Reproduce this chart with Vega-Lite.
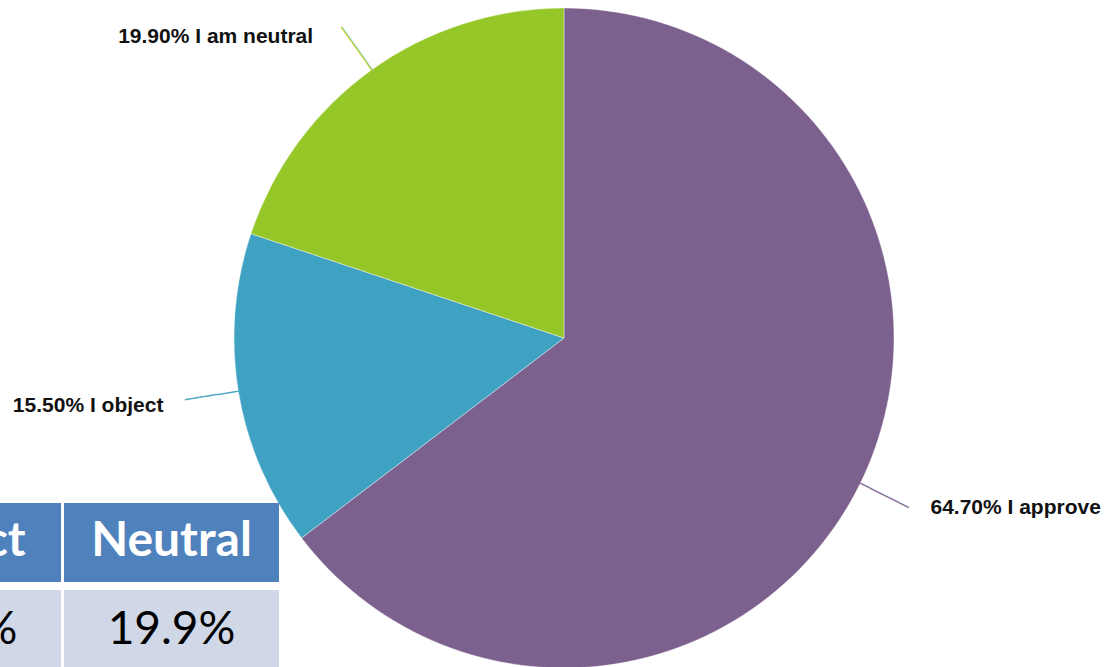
{
  "$schema": "https://vega.github.io/schema/vega-lite/v6.json",
  "width": 1088,
  "height": 658,
  "autosize": {"type": "none"},
  "padding": {"left": 20, "top": 9, "right": 0, "bottom": 0},
  "background": "#ffffff",
  "config": {"view": {"stroke": null}},
  "datasets": {
    "responses": [
      {"response": "I approve", "percent": 64.7, "rank": 1, "label": "64.70% I approve"},
      {"response": "I object", "percent": 15.5, "rank": 2, "label": "15.50% I object"},
      {"response": "I am neutral", "percent": 19.9, "rank": 3, "label": "19.90% I am neutral"}
    ],
    "table": [
      {"column": "Object", "header": "Object", "value": "15.5%"},
      {"column": "Neutral", "header": "Neutral", "value": "19.9%"}
    ]
  },
  "layer": [
    {
      "data": {"name": "responses"},
      "mark": {"type": "arc", "outerRadius": 330, "stroke": "#ffffff", "strokeWidth": 0.4},
      "encoding": {
        "theta": {"field": "percent", "type": "quantitative", "stack": true},
        "order": {"field": "rank", "type": "quantitative"},
        "color": {
          "field": "response", "type": "nominal",
          "scale": {"domain": ["I approve", "I object", "I am neutral"], "range": ["#7c608e", "#40a2c2", "#96c728"]},
          "legend": null
        }
      }
    },
    {
      "data": {"name": "responses"},
      "mark": {"type": "text", "radius": 357, "angle": 26.5, "font": "DejaVu Sans Mono", "fontSize": 18, "color": "#8a74a0", "align": "center", "baseline": "middle"},
      "encoding": {
        "theta": {"field": "percent", "type": "quantitative", "stack": true},
        "order": {"field": "rank", "type": "quantitative"},
        "detail": {"field": "response", "type": "nominal"},
        "text": {"condition": {"test": "datum.response === 'I approve'", "value": "─────"}, "value": ""}
      }
    },
    {
      "data": {"name": "responses"},
      "mark": {"type": "text", "radius": 357, "angle": -9.2, "font": "DejaVu Sans Mono", "fontSize": 18, "color": "#4fa8c7", "align": "center", "baseline": "middle"},
      "encoding": {
        "theta": {"field": "percent", "type": "quantitative", "stack": true},
        "order": {"field": "rank", "type": "quantitative"},
        "detail": {"field": "response", "type": "nominal"},
        "text": {"condition": {"test": "datum.response === 'I object'", "value": "─────"}, "value": ""}
      }
    },
    {
      "data": {"name": "responses"},
      "mark": {"type": "text", "radius": 355, "angle": 54.5, "font": "DejaVu Sans Mono", "fontSize": 18, "color": "#a2cc48", "align": "center", "baseline": "middle"},
      "encoding": {
        "theta": {"field": "percent", "type": "quantitative", "stack": true},
        "order": {"field": "rank", "type": "quantitative"},
        "detail": {"field": "response", "type": "nominal"},
        "text": {"condition": {"test": "datum.response === 'I am neutral'", "value": "─────"}, "value": ""}
      }
    },
    {
      "data": {"name": "responses"},
      "mark": {"type": "text", "radius": 400, "align": "left", "baseline": "middle", "dx": 8, "dy": -8, "font": "Liberation Sans", "fontWeight": "bold", "fontSize": 21, "color": "#111111"},
      "encoding": {
        "theta": {"field": "percent", "type": "quantitative", "stack": true},
        "order": {"field": "rank", "type": "quantitative"},
        "detail": {"field": "response", "type": "nominal"},
        "text": {"condition": {"test": "datum.response === 'I approve'", "field": "label"}, "value": ""}
      }
    },
    {
      "data": {"name": "responses"},
      "mark": {"type": "text", "radius": 400, "align": "right", "baseline": "middle", "dx": -6, "dy": 2, "font": "Liberation Sans", "fontWeight": "bold", "fontSize": 21, "color": "#111111"},
      "encoding": {
        "theta": {"field": "percent", "type": "quantitative", "stack": true},
        "order": {"field": "rank", "type": "quantitative"},
        "detail": {"field": "response", "type": "nominal"},
        "text": {"condition": {"test": "datum.response === 'I object'", "field": "label"}, "value": ""}
      }
    },
    {
      "data": {"name": "responses"},
      "mark": {"type": "text", "radius": 400, "align": "right", "baseline": "middle", "dx": -17, "dy": 23, "font": "Liberation Sans", "fontWeight": "bold", "fontSize": 21, "color": "#111111"},
      "encoding": {
        "theta": {"field": "percent", "type": "quantitative", "stack": true},
        "order": {"field": "rank", "type": "quantitative"},
        "detail": {"field": "response", "type": "nominal"},
        "text": {"condition": {"test": "datum.response === 'I am neutral'", "field": "label"}, "value": ""}
      }
    },
    {
      "data": {"name": "table"},
      "transform": [{"fold": ["header", "value"], "as": ["row", "text"]}],
      "mark": {"type": "rect"},
      "encoding": {
        "x": {"field": "column", "type": "nominal", "sort": ["Object", "Neutral"], "scale": {"type": "band", "range": [-174, 259], "paddingInner": 0.0138, "paddingOuter": 0}, "axis": null},
        "y": {"field": "row", "type": "nominal", "sort": ["header", "value"], "scale": {"type": "band", "range": [494, 660], "paddingInner": 0.093, "paddingOuter": 0}, "axis": null},
        "color": {"field": "row", "type": "nominal", "scale": {"domain": ["header", "value"], "range": ["#4f81bd", "#d0d8e8"]}, "legend": null}
      }
    },
    {
      "data": {"name": "table"},
      "transform": [{"fold": ["header", "value"], "as": ["row", "text"]}, {"filter": "datum.row === 'header'"}],
      "mark": {"type": "text", "font": "Lato", "fontWeight": "bold", "fontSize": 48, "color": "#ffffff", "align": "center", "baseline": "middle"},
      "encoding": {
        "x": {"field": "column", "type": "nominal", "sort": ["Object", "Neutral"], "scale": {"type": "band", "range": [-174, 259], "paddingInner": 0.0138, "paddingOuter": 0}, "axis": null},
        "y": {"field": "row", "type": "nominal", "sort": ["header", "value"], "scale": {"type": "band", "range": [494, 660], "paddingInner": 0.093, "paddingOuter": 0}, "axis": null},
        "text": {"field": "text", "type": "nominal"}
      }
    },
    {
      "data": {"name": "table"},
      "transform": [{"fold": ["header", "value"], "as": ["row", "text"]}, {"filter": "datum.row === 'value'"}],
      "mark": {"type": "text", "font": "Lato", "fontSize": 46, "color": "#000000", "align": "center", "baseline": "middle"},
      "encoding": {
        "x": {"field": "column", "type": "nominal", "sort": ["Object", "Neutral"], "scale": {"type": "band", "range": [-174, 259], "paddingInner": 0.0138, "paddingOuter": 0}, "axis": null},
        "y": {"field": "row", "type": "nominal", "sort": ["header", "value"], "scale": {"type": "band", "range": [494, 660], "paddingInner": 0.093, "paddingOuter": 0}, "axis": null},
        "text": {"field": "text", "type": "nominal"}
      }
    }
  ],
  "resolve": {"scale": {"color": "independent"}}
}
